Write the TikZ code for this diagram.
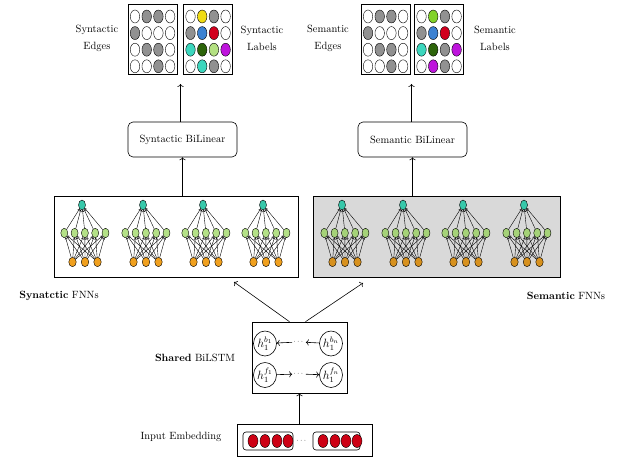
\documentclass[tikz,border=0pt]{standalone}
\usepackage{amsmath,amssymb,amsfonts}
\usepackage{xcolor}
\usepackage{tikz}
\usetikzlibrary{shapes.geometric,arrows.meta}

\definecolor{cgray}{RGB}{145,145,145}
\definecolor{cyel}{RGB}{240,220,20}
\definecolor{cblue}{RGB}{60,130,210}
\definecolor{cred}{RGB}{210,0,30}
\definecolor{cturq}{RGB}{60,215,190}
\definecolor{cdgreen}{RGB}{45,100,10}
\definecolor{clgreen}{RGB}{180,225,130}
\definecolor{cpurple}{RGB}{190,20,220}
\definecolor{clime}{RGB}{130,210,40}
\definecolor{topcol}{RGB}{55,200,170}
\definecolor{midcol}{RGB}{180,225,135}
\definecolor{midcoldark}{RGB}{165,210,120}
\definecolor{botcol}{RGB}{240,160,30}
\definecolor{botcoldark}{RGB}{215,145,30}
\definecolor{embred}{RGB}{205,0,20}

\tikzset{
	cell/.style={shape=ellipse,draw=black,inner sep=0pt,minimum width=9.5pt,minimum height=13pt},
	gridbox/.style={draw=black,line width=1pt,minimum width=49pt,minimum height=70pt},
	bilin/.style={draw=black,line width=0.6pt,rounded corners=5pt,minimum width=109pt,minimum height=35pt},
	fnnbox/.style={draw=black,line width=1pt,minimum height=81pt},
	topn/.style={shape=ellipse,draw=black,fill=topcol,inner sep=0pt,minimum width=7pt,minimum height=10pt},
	midn/.style={shape=ellipse,draw=black,inner sep=0pt,minimum width=7pt,minimum height=9.5pt},
	botn/.style={shape=ellipse,draw=black,inner sep=0pt,minimum width=7.5pt,minimum height=9.5pt},
	netarr/.style={-{To[length=2pt,width=2.5pt]},line width=0.4pt},
	hid/.style={shape=ellipse,draw=black,line width=0.6pt,inner sep=-1pt,minimum width=23pt,minimum height=25pt,font=\large},
	embbox/.style={draw=black,line width=0.6pt,rounded corners=3pt,minimum height=18pt},
	redcell/.style={shape=ellipse,draw=black,fill=embred,inner sep=0pt,minimum width=10pt,minimum height=13pt},
	mainarr/.style={->,line width=0.6pt}
}

% 4x4 grid of cells: name, centre x, colours
\newcommand{\cellgrid}[3]{%
	\foreach \c [count=\i from 0] in {#3}{
		\pgfmathtruncatemacro{\r}{\i/4}
		\pgfmathtruncatemacro{\k}{mod(\i,4)}
		\node[cell,fill=\c] (#1\i) at (#2-17.5+11.7*\k,16.5+16.6*\r) {};
	}
}

% one small feed-forward net: name, centre x, middle colour, bottom colour
\newcommand{\fnnet}[4]{%
	\node[topn] (#1t) at (#2-3,205) {};
	\foreach \m in {1,...,5} \node[midn,fill=#3] (#1m\m) at (#2-31+10.3*\m,233) {};
	\foreach \b in {1,2,3} \node[botn,fill=#4] (#1b\b) at (#2-25+12.5*\b,262) {};
	\foreach \m in {1,...,5} \draw[netarr] (#1m\m) -- (#1t);
	\foreach \m in {1,...,5} \foreach \b in {1,2,3} \draw[netarr] (#1b\b) -- (#1m\m);
}

\begin{document}
\begin{tikzpicture}[x=1pt,y=-1pt,font=\fontsize{10.5}{17}\selectfont]
	\useasboundingbox (0,0) rectangle (617,457);

	% output grids
	\node[gridbox] (synedges) at (152.5,40) {};
	\node[gridbox] (synlabels) at (208,40) {};
	\node[gridbox] (semedges) at (385.5,40) {};
	\node[gridbox] (semlabels) at (439,40) {};
	\cellgrid{se}{152.5}{white,cgray,cgray,white,cgray,white,white,white,white,cgray,cgray,white,white,white,cgray,white}
	\cellgrid{sl}{208}{white,cyel,cgray,white,cgray,cblue,cred,white,cturq,cdgreen,clgreen,cpurple,white,cturq,cgray,white}
	\cellgrid{me}{385.5}{white,cgray,cgray,white,cgray,white,white,white,white,cgray,cgray,white,white,white,cgray,white}
	\cellgrid{ml}{439}{white,clime,cgray,white,cgray,cblue,cred,white,cturq,cdgreen,cgray,cpurple,white,cpurple,cgray,white}

	\node[align=center] (synedgetxt) at (97,38) {Syntactic\\Edges};
	\node[align=center] (synlabeltxt) at (262,38) {Syntactic\\Labels};
	\node[align=center] (semedgetxt) at (328,38) {Semantic\\Edges};
	\node[align=center] (semlabeltxt) at (495,38) {Semantic\\Labels};

	% bilinear
	\node[bilin] (synbil) at (182.5,139.5) {Syntactic BiLinear};
	\node[bilin] (sembil) at (412.5,139.5) {Semantic BiLinear};
	\coordinate (synout) at (180.5,84);
	\coordinate (semout) at (411.5,84);
	\draw[mainarr] (synout |- synbil.north) -- (synout);
	\draw[mainarr] (semout |- sembil.north) -- (semout);

	% FNNs
	\node[fnnbox,minimum width=244pt] (synfnn) at (176,236.5) {};
	\node[fnnbox,minimum width=247pt,fill=gray!30] (semfnn) at (436.5,236.5) {};
	\foreach \nx [count=\n] in {85,146,206,266} {\fnnet{sy\n}{\nx}{midcol}{botcol}}
	\foreach \nx [count=\n] in {345,406,466,527} {\fnnet{sm\n}{\nx}{midcoldark}{botcoldark}}
	\draw[mainarr] (synbil.south |- synfnn.north) -- (synbil.south);
	\draw[mainarr] (sembil.south |- semfnn.north) -- (sembil.south);

	\node (synfnntxt) at (59,296) {\textbf{Synatctic} FNNs};
	\node (semfnntxt) at (566,296) {\textbf{Semantic} FNNs};

	% shared BiLSTM
	\node[draw=black,line width=0.6pt,minimum width=95pt,minimum height=71pt] (lstm) at (299.5,357.5) {};
	\node[hid] (hb1) at (265,343.5) {$h_1^{b_1}$};
	\node[hid] (hbn) at (331,343.5) {$h_1^{b_n}$};
	\node[hid] (hf1) at (265,375) {$h_1^{f_1}$};
	\node[hid] (hfn) at (331,375) {$h_1^{f_n}$};
	\node[inner sep=1pt] (bdots) at (299,342) {\scriptsize$\cdots$};
	\node[inner sep=1pt] (fdots) at (299,374) {\scriptsize$\cdots$};
	\path[mainarr] (hbn) edge (bdots);
	\path[mainarr] (bdots) edge (hb1);
	\path[mainarr] (hf1) edge (fdots);
	\path[mainarr] (fdots) edge (hfn);
	\node (lstmtxt) at (195,358) {\textbf{Shared} BiLSTM};

	\coordinate (synin) at (234,282);
	\coordinate (semin) at (363,283);
	\draw[mainarr] ([xshift=-10pt]lstm.north) -- (synin);
	\draw[mainarr] ([xshift=6pt]lstm.north) -- (semin);

	% input embedding
	\node[draw=black,line width=0.6pt,minimum width=135pt,minimum height=32pt] (emb) at (304.5,440.5) {};
	\node[embbox,minimum width=50pt] (embl) at (268,441) {};
	\node[embbox,minimum width=47pt] (embr) at (336.5,441) {};
	\foreach \x [count=\i] in {253,265,277,288} \node[redcell] (el\i) at (\x,441) {};
	\foreach \x [count=\i] in {323,335,346,357} \node[redcell] (er\i) at (\x,441) {};
	\node[inner sep=1pt] (embdots) at (302,441) {\scriptsize$\cdots$};
	\node (embtxt) at (181,437) {Input Embedding};
	\draw[mainarr] (lstm.south |- emb.north) -- (lstm.south);
\end{tikzpicture}
\end{document}
